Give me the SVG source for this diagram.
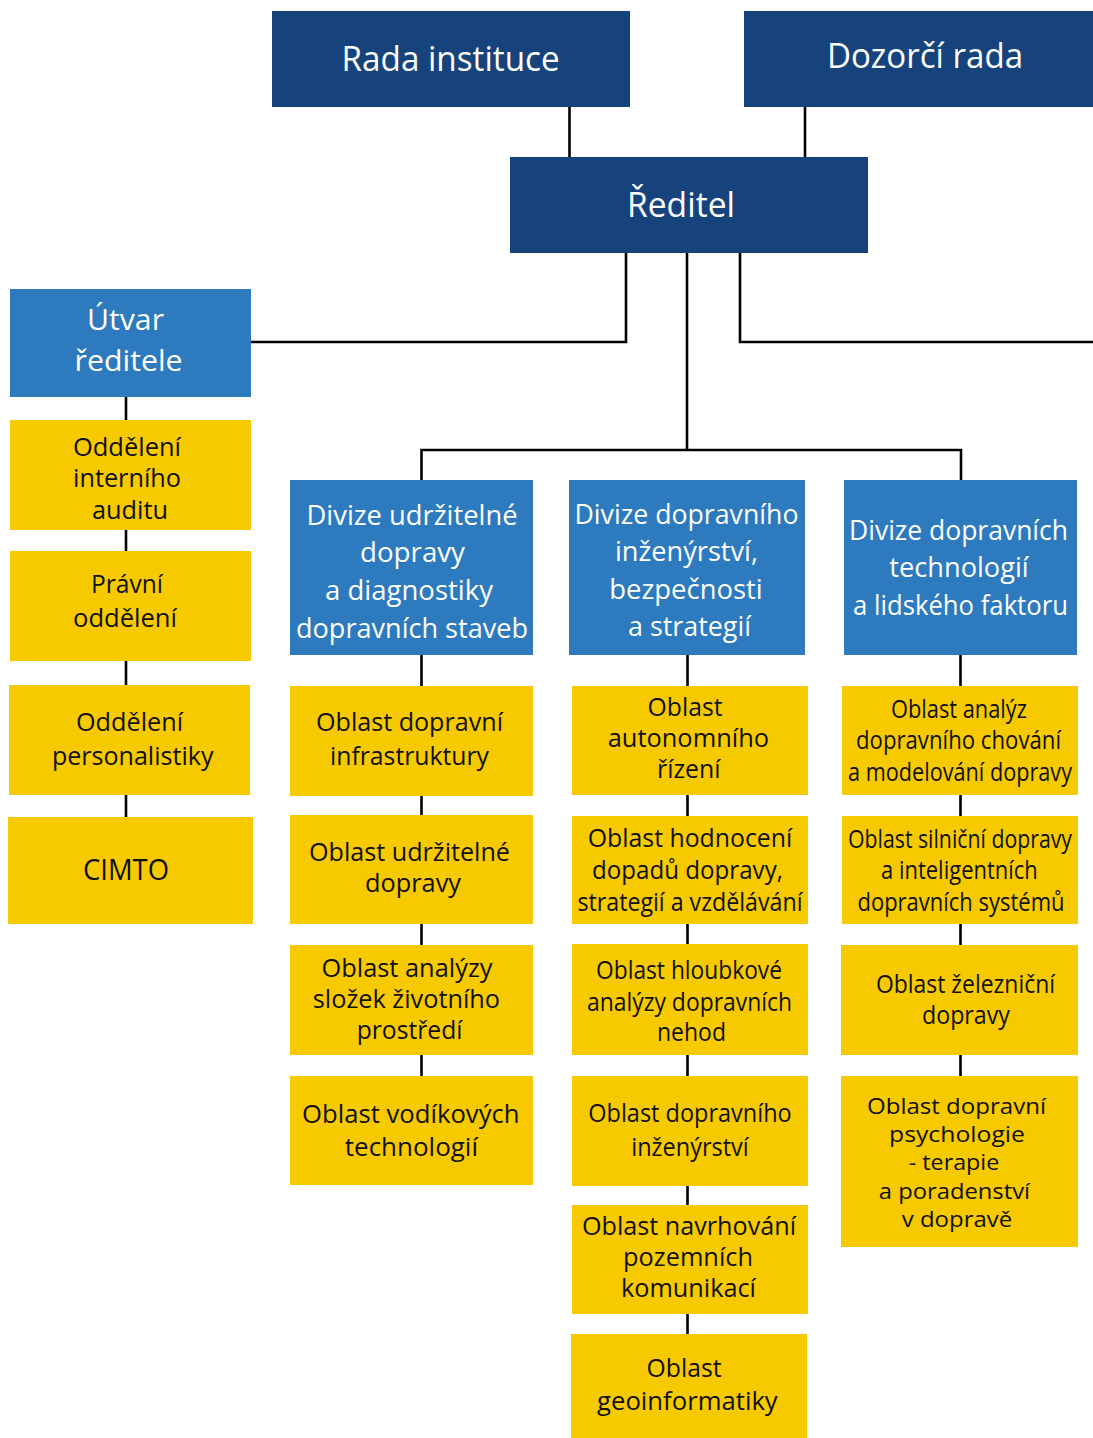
<svg xmlns="http://www.w3.org/2000/svg" width="1093" height="1438" viewBox="0 0 1093 1438">
<style>
.navy{fill:#17437d}
.blue{fill:#2d7abe}
.yel{fill:#f7ca00}
text{font-family:"Open Sans","Liberation Sans",sans-serif;text-anchor:middle}
.w{fill:#ffffff}
.k{fill:#111111}
.s34{font-size:34px}
.s30{font-size:30px}
.s28{font-size:28px}
.s26{font-size:26px}
.s24{font-size:25px}
.s22{font-size:22.5px}
#connectors path{fill:none;stroke:#000;stroke-width:2.6}
</style>
<rect width="1093" height="1438" fill="#ffffff"/>
<g id="connectors">
<path d="M569.5,107V157"/>
<path d="M805,107V157"/>
<path d="M626,253V342H251"/>
<path d="M740,253V342H1093"/>
<path d="M687,253V450"/>
<path d="M421.5,480V450H961V480"/>
<path d="M126,397V420M126,530V551M126,661V685M126,795V817"/>
<path d="M421.5,655V686M421.5,796V815M421.5,924V945M421.5,1055V1076"/>
<path d="M687.5,655V686M687.5,795V816M687.5,924V944M687.5,1055V1076M687.5,1186V1205M687.5,1314V1334"/>
<path d="M960.5,655V686M960.5,795V816M960.5,924V945M960.5,1055V1076"/>
</g>
<g id="rada"><rect class="navy" x="272" y="11" width="358" height="96"/>
<text class="w s34" x="450.6" y="71" textLength="218" lengthAdjust="spacingAndGlyphs">Rada instituce</text></g>
<g id="dozorci"><rect class="navy" x="744" y="11" width="349" height="96"/>
<text class="w s34" x="925" y="68" textLength="196" lengthAdjust="spacingAndGlyphs">Dozorčí rada</text></g>
<g id="reditel"><rect class="navy" x="510" y="157" width="358" height="96"/>
<text class="w s34" x="681" y="217" textLength="108" lengthAdjust="spacingAndGlyphs">Ředitel</text></g>
<g id="utvar"><rect class="blue" x="10" y="289" width="241" height="108"/>
<text class="w s30" x="125.5" y="330" textLength="77" lengthAdjust="spacingAndGlyphs">Útvar</text>
<text class="w s30" x="128.6" y="371" textLength="108" lengthAdjust="spacingAndGlyphs">ředitele</text></g>
<g id="div1"><rect class="blue" x="290" y="480" width="243" height="175"/>
<text class="w s28" x="412" y="525" textLength="211" lengthAdjust="spacingAndGlyphs">Divize udržitelné</text>
<text class="w s28" x="412.5" y="562" textLength="105" lengthAdjust="spacingAndGlyphs">dopravy</text>
<text class="w s28" x="409" y="600" textLength="168" lengthAdjust="spacingAndGlyphs">a diagnostiky</text>
<text class="w s28" x="412" y="637.5" textLength="232" lengthAdjust="spacingAndGlyphs">dopravních staveb</text></g>
<g id="div2"><rect class="blue" x="569" y="480" width="236" height="175"/>
<text class="w s28" x="686.5" y="524" textLength="224" lengthAdjust="spacingAndGlyphs">Divize dopravního</text>
<text class="w s28" x="686.5" y="561" textLength="143" lengthAdjust="spacingAndGlyphs">inženýrství,</text>
<text class="w s28" x="686" y="599" textLength="153.5" lengthAdjust="spacingAndGlyphs">bezpečnosti</text>
<text class="w s28" x="689.5" y="636" textLength="123" lengthAdjust="spacingAndGlyphs">a strategií</text></g>
<g id="div3"><rect class="blue" x="844" y="480" width="233" height="175"/>
<text class="w s28" x="958.5" y="540" textLength="219" lengthAdjust="spacingAndGlyphs">Divize dopravních</text>
<text class="w s28" x="959" y="577" textLength="139.5" lengthAdjust="spacingAndGlyphs">technologií</text>
<text class="w s28" x="960.5" y="614.5" textLength="215" lengthAdjust="spacingAndGlyphs">a lidského faktoru</text></g>
<g id="audit"><rect class="yel" x="10" y="420" width="241" height="110"/>
<text class="k s26" x="127" y="456" textLength="108" lengthAdjust="spacingAndGlyphs">Oddělení</text>
<text class="k s26" x="127" y="487" textLength="108" lengthAdjust="spacingAndGlyphs">interního</text>
<text class="k s26" x="130" y="519" textLength="76" lengthAdjust="spacingAndGlyphs">auditu</text></g>
<g id="pravni"><rect class="yel" x="10" y="551" width="241" height="110"/>
<text class="k s26" x="127" y="593" textLength="72" lengthAdjust="spacingAndGlyphs">Právní</text>
<text class="k s26" x="125" y="627" textLength="104" lengthAdjust="spacingAndGlyphs">oddělení</text></g>
<g id="personal"><rect class="yel" x="9" y="685" width="241" height="110"/>
<text class="k s26" x="129.5" y="731" textLength="107" lengthAdjust="spacingAndGlyphs">Oddělení</text>
<text class="k s26" x="132.7" y="765" textLength="161.5" lengthAdjust="spacingAndGlyphs">personalistiky</text></g>
<g id="cimto"><rect class="yel" x="8" y="817" width="245" height="107"/>
<text class="k s30" x="126" y="880" textLength="86" lengthAdjust="spacingAndGlyphs">CIMTO</text></g>
<g id="c1a"><rect class="yel" x="290" y="686" width="243" height="110"/>
<text class="k s26" x="409.5" y="731" textLength="187" lengthAdjust="spacingAndGlyphs">Oblast dopravní</text>
<text class="k s26" x="409.5" y="765" textLength="159" lengthAdjust="spacingAndGlyphs">infrastruktury</text></g>
<g id="c1b"><rect class="yel" x="290" y="815" width="243" height="109"/>
<text class="k s26" x="409.5" y="861" textLength="201" lengthAdjust="spacingAndGlyphs">Oblast udržitelné</text>
<text class="k s26" x="413" y="892" textLength="96" lengthAdjust="spacingAndGlyphs">dopravy</text></g>
<g id="c1c"><rect class="yel" x="290" y="945" width="243" height="110"/>
<text class="k s24" x="407" y="977" textLength="171" lengthAdjust="spacingAndGlyphs">Oblast analýzy</text>
<text class="k s24" x="406.4" y="1008" textLength="187.3" lengthAdjust="spacingAndGlyphs">složek životního</text>
<text class="k s24" x="409.6" y="1039" textLength="105.8" lengthAdjust="spacingAndGlyphs">prostředí</text></g>
<g id="c1d"><rect class="yel" x="290" y="1076" width="243" height="109"/>
<text class="k s26" x="410.8" y="1123" textLength="217.5" lengthAdjust="spacingAndGlyphs">Oblast vodíkových</text>
<text class="k s26" x="411.4" y="1156" textLength="133.2" lengthAdjust="spacingAndGlyphs">technologií</text></g>
<g id="c2a"><rect class="yel" x="572" y="686" width="236" height="109"/>
<text class="k s26" x="685" y="716" textLength="75" lengthAdjust="spacingAndGlyphs">Oblast</text>
<text class="k s26" x="688.4" y="747" textLength="161.3" lengthAdjust="spacingAndGlyphs">autonomního</text>
<text class="k s26" x="688.8" y="778" textLength="63.6" lengthAdjust="spacingAndGlyphs">řízení</text></g>
<g id="c2b"><rect class="yel" x="572" y="816" width="236" height="108"/>
<text class="k s26" x="690" y="847" textLength="204.5" lengthAdjust="spacingAndGlyphs">Oblast hodnocení</text>
<text class="k s26" x="687.5" y="879" textLength="191" lengthAdjust="spacingAndGlyphs">dopadů dopravy,</text>
<text class="k s26" x="690" y="911" textLength="225" lengthAdjust="spacingAndGlyphs">strategií a vzdělávání</text></g>
<g id="c2c"><rect class="yel" x="572" y="944" width="236" height="111"/>
<text class="k s24" x="689" y="979" textLength="186" lengthAdjust="spacingAndGlyphs">Oblast hloubkové</text>
<text class="k s24" x="689.5" y="1010.7" textLength="205" lengthAdjust="spacingAndGlyphs">analýzy dopravních</text>
<text class="k s24" x="691.5" y="1041" textLength="69" lengthAdjust="spacingAndGlyphs">nehod</text></g>
<g id="c2d"><rect class="yel" x="572" y="1076" width="236" height="110"/>
<text class="k s24" x="690" y="1121.7" textLength="203.5" lengthAdjust="spacingAndGlyphs">Oblast dopravního</text>
<text class="k s24" x="690" y="1156" textLength="117.5" lengthAdjust="spacingAndGlyphs">inženýrství</text></g>
<g id="c2e"><rect class="yel" x="572" y="1205" width="236" height="109"/>
<text class="k s26" x="689" y="1235" textLength="214" lengthAdjust="spacingAndGlyphs">Oblast navrhování</text>
<text class="k s26" x="688" y="1265.7" textLength="130" lengthAdjust="spacingAndGlyphs">pozemních</text>
<text class="k s26" x="688.5" y="1297" textLength="135" lengthAdjust="spacingAndGlyphs">komunikací</text></g>
<g id="c2f"><rect class="yel" x="571" y="1334" width="236" height="104"/>
<text class="k s26" x="684" y="1376.7" textLength="75" lengthAdjust="spacingAndGlyphs">Oblast</text>
<text class="k s26" x="687.4" y="1410" textLength="180.7" lengthAdjust="spacingAndGlyphs">geoinformatiky</text></g>
<g id="c3a"><rect class="yel" x="842" y="686" width="236" height="109"/>
<text class="k s24" x="959" y="718" textLength="136" lengthAdjust="spacingAndGlyphs">Oblast analýz</text>
<text class="k s24" x="958.5" y="749" textLength="205" lengthAdjust="spacingAndGlyphs">dopravního chování</text>
<text class="k s24" x="960" y="780.7" textLength="224" lengthAdjust="spacingAndGlyphs">a modelování dopravy</text></g>
<g id="c3b"><rect class="yel" x="842" y="816" width="236" height="108"/>
<text class="k s24" x="960" y="848" textLength="224" lengthAdjust="spacingAndGlyphs">Oblast silniční dopravy</text>
<text class="k s24" x="959.4" y="879" textLength="156.7" lengthAdjust="spacingAndGlyphs">a inteligentních</text>
<text class="k s24" x="961" y="910.7" textLength="207" lengthAdjust="spacingAndGlyphs">dopravních systémů</text></g>
<g id="c3c"><rect class="yel" x="841" y="945" width="237" height="110"/>
<text class="k s24" x="965.5" y="993" textLength="179" lengthAdjust="spacingAndGlyphs">Oblast železniční</text>
<text class="k s24" x="966" y="1024" textLength="88" lengthAdjust="spacingAndGlyphs">dopravy</text></g>
<g id="c3d"><rect class="yel" x="841" y="1076" width="237" height="171"/>
<text class="k s22" x="956.5" y="1114" textLength="179" lengthAdjust="spacingAndGlyphs">Oblast dopravní</text>
<text class="k s22" x="957" y="1141.7" textLength="136" lengthAdjust="spacingAndGlyphs">psychologie</text>
<text class="k s22" x="954" y="1170" textLength="90.5" lengthAdjust="spacingAndGlyphs">- terapie</text>
<text class="k s22" x="954.4" y="1199" textLength="151.3" lengthAdjust="spacingAndGlyphs">a poradenství</text>
<text class="k s22" x="957" y="1227" textLength="110.5" lengthAdjust="spacingAndGlyphs">v dopravě</text></g>
</svg>
